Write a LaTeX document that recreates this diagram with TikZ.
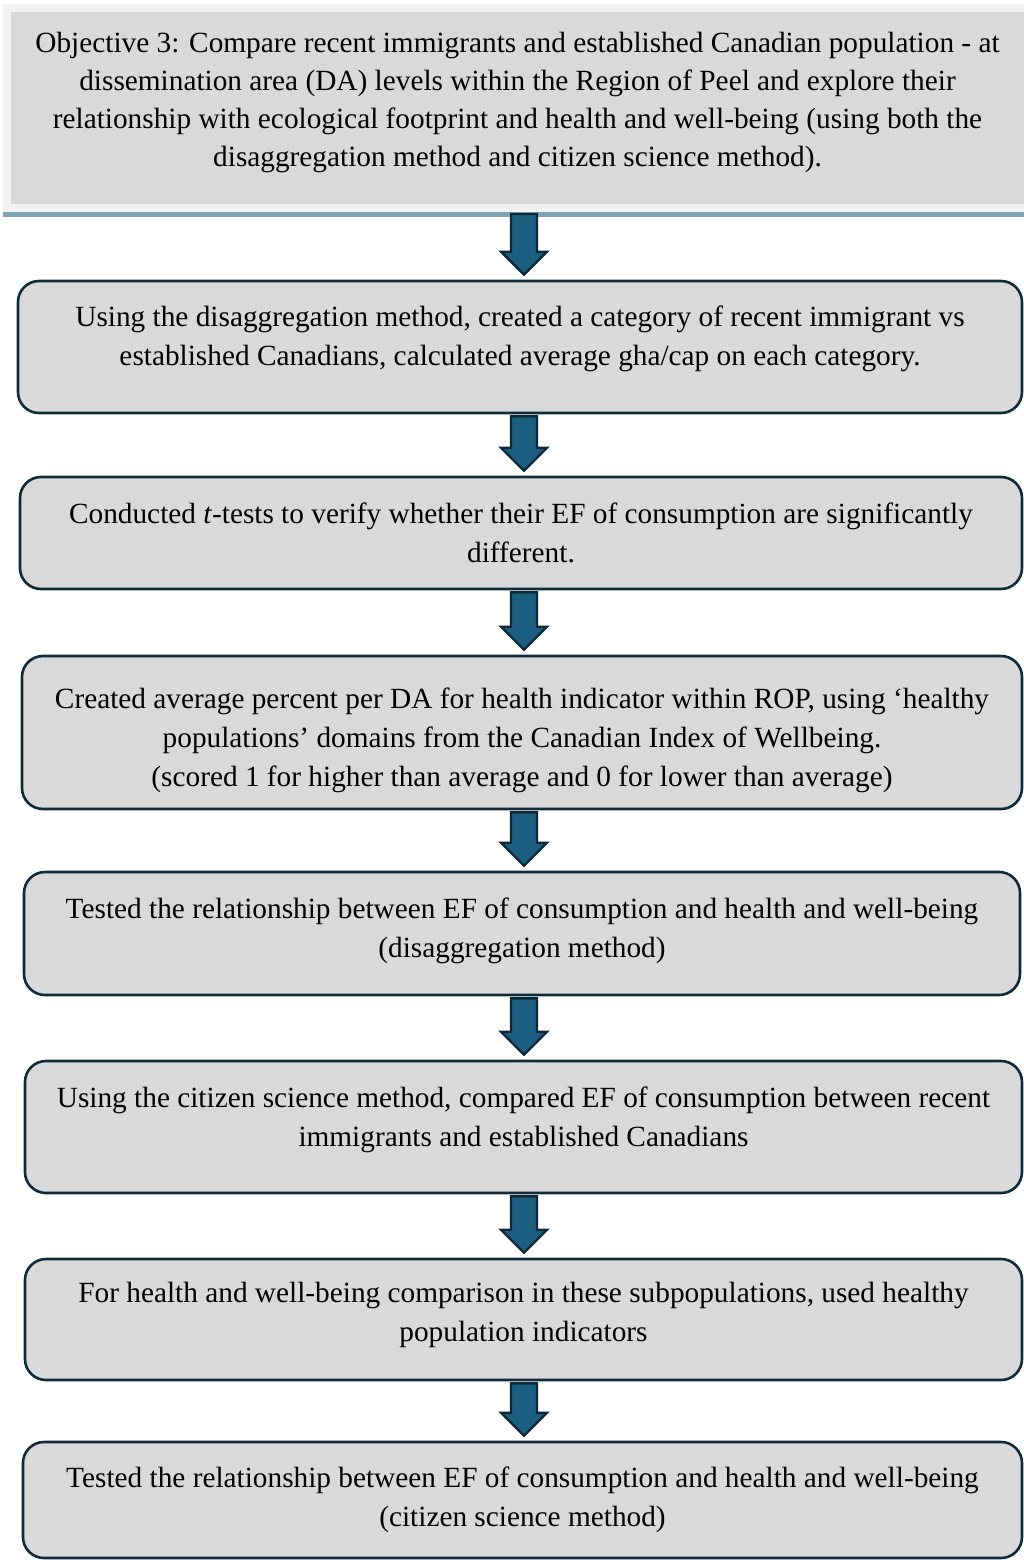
\documentclass[tikz,border=0pt]{standalone}
\usepackage{fontspec}
\setmainfont{Liberation Serif}
\usetikzlibrary{calc}
\definecolor{boxfill}{HTML}{D9D9D9}
\definecolor{boxline}{HTML}{0F2A3A}
\definecolor{rimgrey}{HTML}{F2F2F2}
\definecolor{ruleblue}{HTML}{7FA4B6}
\definecolor{arrowfill}{HTML}{1B5E80}
\definecolor{arrowline}{HTML}{0E2838}
% struts to nudge the text inside a box up (deeper last line) or down (taller first line)
\newcommand\liftby[1]{\rule[-#1]{0pt}{0pt}}
\newcommand\sinkby[1]{\rule{0pt}{#1}}
\tikzset{stepbox/.style={draw=boxline,line width=2.6pt,fill=boxfill,rounded corners=21pt,align=center,font=\fontsize{29.3}{39}\selectfont,inner sep=0pt},
  flowarrow/.style={draw=arrowline,fill=arrowfill,line width=2.4pt,line join=miter,
    to path={let \p1=(\tikztostart),\p2=(\tikztotarget) in
      (511pt,\y1-2pt) -- (537pt,\y1-2pt) -- (537pt,\y2+28pt) -- (547pt,\y2+28pt) -- (524pt,\y2+5pt) -- (501pt,\y2+28pt) -- (511pt,\y2+28pt) -- cycle}}}

\begin{document}
\begin{tikzpicture}[x=1pt,y=1pt]
\useasboundingbox (0,0) rectangle (1024,-1560);
% objective banner
\node[draw=rimgrey,fill=boxfill,line width=8pt,minimum width=1021pt,minimum height=200pt,inner sep=0pt,align=center,font=\fontsize{29.3}{38}\selectfont] (objective) at (517.5,-108) {Objective 3: Compare recent immigrants and established Canadian population - at\\dissemination area (DA) levels within the Region of Peel and explore their\\relationship with ecological footprint and health and well-being (using both the\\disaggregation method and citizen science method).\liftby{17pt}};
\draw[ruleblue,line width=5pt] ($(objective.south west)+(0,-2.5)$) -- ($(objective.south east)+(0,-2.5)$);
% steps
\node[stepbox,minimum width=1004pt,minimum height=132pt] (disagg) at (520,-347) {Using the disaggregation method, created a category of recent immigrant vs\\established Canadians, calculated average gha/cap on each category.\liftby{22pt}};
\node[stepbox,minimum width=1002pt,minimum height=112pt] (ttest) at (521,-533) {Conducted \textit{t}-tests to verify whether their EF of consumption are significantly\\different.};
\node[stepbox,minimum width=1000pt,minimum height=153pt] (health) at (522,-732.5) {\sinkby{36pt}Created average percent per DA for health indicator within ROP, using ‘healthy\\populations’ domains from the Canadian Index of Wellbeing.\\(scored 1 for higher than average and 0 for lower than average)};
\node[stepbox,minimum width=996pt,minimum height=123pt] (testdis) at (522,-933.5) {Tested the relationship between EF of consumption and health and well-being\\(disaggregation method)\liftby{12.5pt}};
\node[stepbox,minimum width=997pt,minimum height=132pt] (citizen) at (523.5,-1127) {Using the citizen science method, compared EF of consumption between recent\\immigrants and established Canadians\liftby{20.5pt}};
\node[stepbox,minimum width=997pt,minimum height=121pt] (indic) at (523.5,-1319.5) {For health and well-being comparison in these subpopulations, used healthy\\population indicators\liftby{14.5pt}};
\node[stepbox,minimum width=999pt,minimum height=116pt] (testcit) at (522.5,-1500) {Tested the relationship between EF of consumption and health and well-being\\(citizen science method)};
% arrows
\draw[flowarrow] (objective.south) to (disagg.north);
\draw[flowarrow] (disagg.south) to (ttest.north);
\draw[flowarrow] (ttest.south) to (health.north);
\draw[flowarrow] (health.south) to (testdis.north);
\draw[flowarrow] (testdis.south) to (citizen.north);
\draw[flowarrow] (citizen.south) to (indic.north);
\draw[flowarrow] (indic.south) to (testcit.north);
\end{tikzpicture}
\end{document}
